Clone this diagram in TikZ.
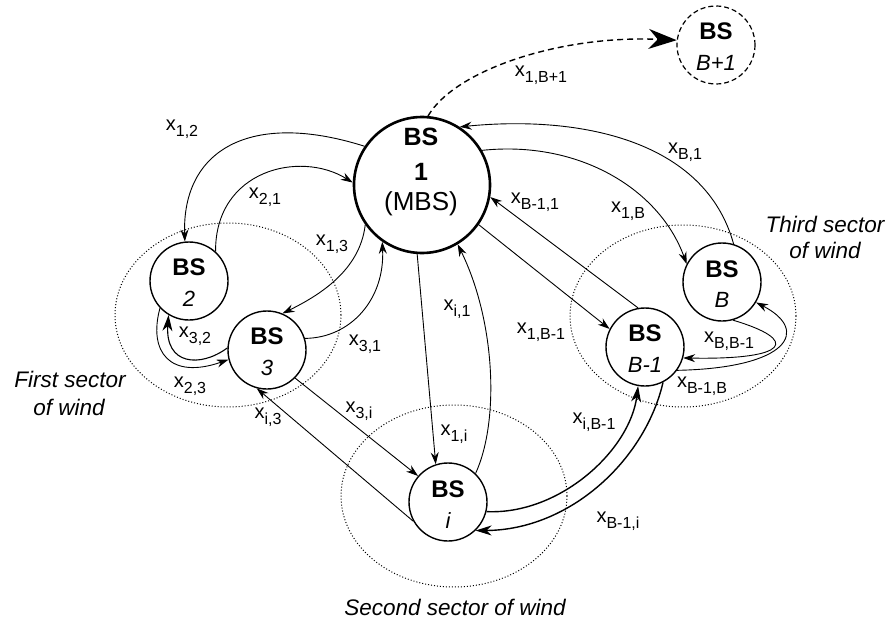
\documentclass[tikz,border=0pt]{standalone}
\usepackage{fontspec}
\setmainfont{Liberation Sans}
\usetikzlibrary{arrows.meta}

% flow variable x with a lowered subscript
\newcommand{\xsub}[1]{{\fontsize{20}{20}\selectfont x}\raisebox{-5.5pt}{\fontsize{16}{16}\selectfont #1}}

\begin{document}
\begin{tikzpicture}[x=1pt,y=-1pt,
  bsnode/.style={circle,draw,line width=1.4pt,minimum size=78pt,inner sep=0pt},
  mbsnode/.style={circle,draw,line width=2.6pt,minimum size=136pt,inner sep=0pt},
  bshead/.style={anchor=base,inner sep=0pt,font=\fontsize{24}{24}\selectfont\bfseries},
  bsidx/.style={anchor=base,inner sep=0pt,font=\fontsize{22}{22}\selectfont\itshape},
  mbstext/.style={anchor=base,inner sep=0pt,font=\fontsize{26}{26}\selectfont},
  flowlabel/.style={inner sep=0pt},
  sector/.style={line width=1pt,dash pattern=on 1pt off 2pt},
  sectortext/.style={anchor=base,inner sep=0pt,font=\fontsize{22.5}{22.5}\selectfont\itshape},
  flow/.style={line width=0.9pt,-{Stealth[length=12pt,width=8pt,inset=4pt]}},
  flowbold/.style={line width=1.4pt,-{Stealth[length=16pt,width=10pt,inset=5pt]}},
  flowbig/.style={line width=1.1pt,-{Stealth[length=16pt,width=10pt,inset=5pt]}},
  newlink/.style={line width=1.4pt,dash pattern=on 6pt off 4pt,-{Stealth[length=28pt,width=20pt,inset=9pt]}},
]
\useasboundingbox (0,0) rectangle (888,623);

% sectors of wind
\draw[sector] (228,315) ellipse [x radius=113pt, y radius=92pt];
\draw[sector] (454,496) ellipse [x radius=113pt, y radius=91pt];
\draw[sector] (683,316) ellipse [x radius=113pt, y radius=91pt];

\node[sectortext] (s1a) at (70,387) {First sector};
\node[sectortext] (s1b) at (69,415) {of wind};
\node[sectortext] (s2) at (455,615) {Second sector of wind};
\node[sectortext] (s3a) at (825,232) {Third sector};
\node[sectortext] (s3b) at (825,258) {of wind};

% base stations
\node[mbsnode] (bs1) at (422,185) {};
\node[bshead,font=\fontsize{25}{25}\selectfont\bfseries] (bs1a) at (421,145) {BS};
\node[bshead,font=\fontsize{25}{25}\selectfont\bfseries] (bs1b) at (421,180) {1};
\node[mbstext] (bs1c) at (421,210) {(MBS)};

\node[bsnode] (bs2) at (189,281) {};
\node[bshead] (bs2a) at (189,275) {BS};
\node[bsidx] (bs2b) at (189,306) {2};

\node[bsnode] (bs3) at (267,350) {};
\node[bshead] (bs3a) at (267,344) {BS};
\node[bsidx] (bs3b) at (267,375) {3};

\node[bsnode] (bsi) at (448,502) {};
\node[bshead] (bsia) at (448,497) {BS};
\node[bsidx] (bsib) at (448,528) {i};

\node[bsnode] (bsbm) at (645,347) {};
\node[bshead] (bsbma) at (645,341) {BS};
\node[bsidx] (bsbmb) at (645,372) {B-1};

\node[bsnode] (bsb) at (722,282) {};
\node[bshead] (bsba) at (722,277) {BS};
\node[bsidx] (bsbb) at (722,307) {B};

\node[bsnode,dash pattern=on 5pt off 3pt,line width=1.2pt] (bsn) at (716,45) {};
\node[bshead] (bsna) at (716,40) {BS};
\node[bsidx] (bsnb) at (716,71) {B+1};

% flows
\draw[newlink] (bs1.85) .. controls (455,70) and (560,35) .. (bsn.173);
\draw[flow] (bs1.146) .. controls (250,110) and (182,150) .. (bs2.96);
\draw[flow] (bs2.48) .. controls (215,170) and (300,150) .. (bs1.178);
\draw[flow] (bs1.215) .. controls (360,270) and (320,295) .. (bs3.67);
\draw[flow] (bs3.17) .. controls (350,338) and (385,300) .. (bs1.235);
\draw[flowbig] (bs3.177) .. controls (200,368) and (165,365) .. (bs2.239);
\draw[flow] (bs2.223) .. controls (148,352) and (170,380) .. (bs3.194);
\draw[flow] (bs3.315) -- (bsi.139);
\draw[flow] (bsi.209) -- (bs3.255);
\draw[flow] (bs1.266) -- (bsi.108);
\draw[flow] (bsi.46) .. controls (500,420) and (495,320) .. (bs1.301);
\draw[flow] (bs1.325) -- (bsbm.153);
\draw[flow] (bsbm.100) -- (bs1.350);
\draw[flow] (bs1.30) .. controls (580,140) and (660,190) .. (bsb.153);
\draw[flow] (bsb.73) .. controls (705,140) and (580,115) .. (bs1.57);
\draw[flow] (bsb.286) .. controls (800,340) and (790,360) .. (bsbm.344);
\draw[flow] (bsbm.324) .. controls (790,368) and (810,330) .. (bsb.329);
\draw[flowbold] (bsi.346) .. controls (560,515) and (630,450) .. (bsbm.260);
\draw[flowbold] (bsbm.297) .. controls (645,460) and (570,530) .. (bsi.314);

% flow labels
\node[flowlabel] (l1n) at (541,75) {\xsub{1,B+1}};
\node[flowlabel] (l12) at (182,129) {\xsub{1,2}};
\node[flowlabel] (l21) at (265,197) {\xsub{2,1}};
\node[flowlabel] (l13) at (332,244) {\xsub{1,3}};
\node[flowlabel] (l31) at (365,344) {\xsub{3,1}};
\node[flowlabel] (l32) at (195,336) {\xsub{3,2}};
\node[flowlabel] (l23) at (190,386) {\xsub{2,3}};
\node[flowlabel] (l3i) at (359,411) {\xsub{3,i}};
\node[flowlabel] (li3) at (268,417) {\xsub{i,3}};
\node[flowlabel] (l1i) at (454,434) {\xsub{1,i}};
\node[flowlabel] (li1) at (457,309) {\xsub{i,1}};
\node[flowlabel] (l1bm) at (541,332) {\xsub{1,B-1}};
\node[flowlabel] (lbm1) at (535,202) {\xsub{B-1,1}};
\node[flowlabel] (l1b) at (628,211) {\xsub{1,B}};
\node[flowlabel] (lb1) at (685,152) {\xsub{B,1}};
\node[flowlabel] (lbbm) at (729,341) {\xsub{B,B-1}};
\node[flowlabel] (lbmb) at (702,386) {\xsub{B-1,B}};
\node[flowlabel] (libm) at (594,422) {\xsub{i,B-1}};
\node[flowlabel] (lbmi) at (618,521) {\xsub{B-1,i}};
\end{tikzpicture}
\end{document}
